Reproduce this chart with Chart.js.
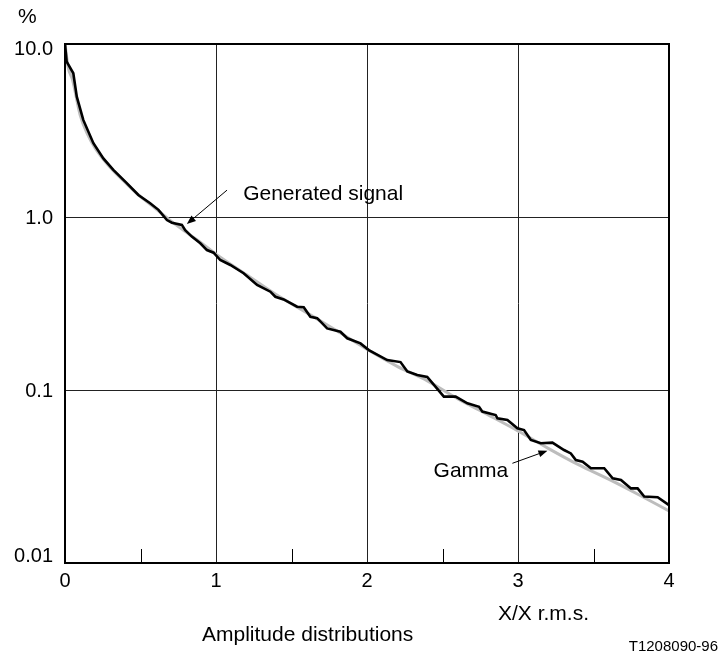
<!DOCTYPE html>
<html>
<head>
<meta charset="utf-8">
<script src="https://cdn.jsdelivr.net/npm/chart.js@4/dist/chart.umd.min.js"></script>
<style>
    html, body { margin: 0; padding: 0; background: #fff; }
    #wrap { width: 720px; height: 652px; position: relative; }
</style>
</head>
<body>
<div id="wrap"><canvas id="chart"></canvas></div>
<script>
// data
const genX = [0, 0.011, 0.055, 0.078, 0.121, 0.188, 0.254, 0.320, 0.409, 0.486, 0.564, 0.619, 0.675, 0.708, 0.774, 0.796, 0.840, 0.896, 0.940, 0.984, 1.028, 1.095, 1.183, 1.272, 1.360, 1.393, 1.448, 1.537, 1.581, 1.625, 1.670, 1.736, 1.824, 1.869, 1.957, 2.012, 2.134, 2.222, 2.267, 2.333, 2.399, 2.509, 2.587, 2.665, 2.742, 2.764, 2.852, 2.864, 2.930, 2.996, 3.040, 3.085, 3.151, 3.228, 3.305, 3.350, 3.383, 3.428, 3.483, 3.571, 3.627, 3.682, 3.748, 3.792, 3.836, 3.925, 4.0];
const genY = [10, 7.9, 6.77, 4.96, 3.64, 2.67, 2.18, 1.87, 1.57, 1.34, 1.20, 1.10, 0.96, 0.927, 0.90, 0.84, 0.77, 0.705, 0.644, 0.622, 0.564, 0.528, 0.473, 0.405, 0.370, 0.346, 0.334, 0.303, 0.301, 0.265, 0.260, 0.227, 0.217, 0.199, 0.186, 0.170, 0.149, 0.145, 0.128, 0.122, 0.119, 0.0915, 0.0915, 0.0838, 0.080, 0.075, 0.0717, 0.0686, 0.0671, 0.0601, 0.0587, 0.0514, 0.0492, 0.0496, 0.045, 0.043, 0.0394, 0.0385, 0.0353, 0.0353, 0.0309, 0.0302, 0.027, 0.027, 0.0242, 0.024, 0.0216];

const gammaX = [0, 0.02, 0.05, 0.1, 0.15, 0.2, 0.3, 0.4, 0.5, 0.6, 0.7, 0.8, 0.9, 1.0, 1.2, 1.4, 1.6, 1.8, 2.0, 2.2, 2.4, 2.6, 2.8, 3.0, 3.2, 3.4, 3.6, 3.8, 4.0];
const gammaY = [10, 7.4, 6.2, 3.9, 3.0, 2.5, 1.93, 1.58, 1.31, 1.12, 0.95, 0.82, 0.71, 0.61, 0.465, 0.355, 0.28, 0.22, 0.172, 0.137, 0.113, 0.089, 0.072, 0.058, 0.046, 0.037, 0.0305, 0.0248, 0.0200];

const xTicks = [0, 0.5, 1, 1.5, 2, 2.5, 3, 3.5, 4];
const xLabels = ['0', '', '1', '', '2', '', '3', '', '4'];
const yTicks = [0.01, 0.1, 1, 10];
const yLabels = ['0.01', '0.1', '1.0', '10.0'];

const FONT = '"Liberation Sans", Arial, Helvetica, sans-serif';

const toPoints = (xs, ys) => xs.map((x, i) => ({ x: x, y: ys[i] }));

const drawArrow = (ctx, x1, y1, x2, y2) => {
    const ang = Math.atan2(y2 - y1, x2 - x1);
    const len = 9, half = 3.5;
    ctx.beginPath();
    ctx.moveTo(x1, y1);
    ctx.lineTo(x2 - Math.cos(ang) * len * 0.8, y2 - Math.sin(ang) * len * 0.8);
    ctx.stroke();
    ctx.beginPath();
    ctx.moveTo(x2, y2);
    ctx.lineTo(x2 - Math.cos(ang) * len - Math.sin(ang) * half, y2 - Math.sin(ang) * len + Math.cos(ang) * half);
    ctx.lineTo(x2 - Math.cos(ang) * len + Math.sin(ang) * half, y2 - Math.sin(ang) * len - Math.cos(ang) * half);
    ctx.closePath();
    ctx.fill();
};

const decorPlugin = {
    id: 'decor',
    afterDraw(chart) {
        const ctx = chart.ctx;
        const area = chart.chartArea;
        const xs = chart.scales.x;
        const ys = chart.scales.y;
        ctx.save();

        // frame
        ctx.strokeStyle = '#000';
        ctx.lineWidth = 2;
        ctx.strokeRect(area.left, area.top, area.right - area.left, area.bottom - area.top);

        // small ticks at the half units
        ctx.lineWidth = 1;
        xTicks.forEach((v, i) => {
            if (xLabels[i] !== '') return;
            const px = Math.round(xs.getPixelForValue(v)) + 0.5;
            ctx.beginPath();
            ctx.moveTo(px, area.bottom);
            ctx.lineTo(px, area.bottom - 14);
            ctx.stroke();
        });

        // y labels, the end ones pulled inside
        ctx.fillStyle = '#000';
        ctx.font = '20px ' + FONT;
        ctx.textAlign = 'right';
        ctx.textBaseline = 'alphabetic';
        yTicks.forEach((v, i) => {
            let py = ys.getPixelForValue(v) + 7;
            if (i === 0) py -= 8;
            if (i === yTicks.length - 1) py += 4;
            ctx.fillText(yLabels[i], area.left - 12, py);
        });

        ctx.font = '21px ' + FONT;
        ctx.textAlign = 'left';
        ctx.fillText('%', 18, 23);
        ctx.fillText('X/X r.m.s.', 498, 620);
        ctx.fillText('Amplitude distributions', 202, 641);
        ctx.font = '15px ' + FONT;
        ctx.textAlign = 'right';
        ctx.fillText('T1208090-96', 718, 651);

        // annotations
        ctx.font = '21px ' + FONT;
        ctx.textAlign = 'left';
        ctx.fillText('Generated signal', xs.getPixelForValue(1.18), ys.getPixelForValue(1.25));
        ctx.fillText('Gamma', xs.getPixelForValue(2.441), ys.getPixelForValue(0.0314));
        ctx.lineWidth = 1;
        drawArrow(ctx, xs.getPixelForValue(1.073), ys.getPixelForValue(1.43),
            xs.getPixelForValue(0.807), ys.getPixelForValue(0.911));
        drawArrow(ctx, xs.getPixelForValue(2.963), ys.getPixelForValue(0.0377),
            xs.getPixelForValue(3.195), ys.getPixelForValue(0.0446));

        ctx.restore();
    }
};

const gridColor = (v, ok) => ok(v) ? '#222' : 'rgba(0,0,0,0)';

new Chart(document.getElementById('chart'), {
    type: 'line',
    data: {
        datasets: [{
            label: 'Generated signal',
            data: toPoints(genX, genY),
            borderColor: '#000',
            borderWidth: 2.6,
            pointRadius: 0,
            tension: 0
        }, {
            label: 'Gamma',
            data: toPoints(gammaX, gammaY),
            borderColor: '#bdbdbd',
            borderWidth: 3,
            pointRadius: 0,
            cubicInterpolationMode: 'monotone'
        }]
    },
    options: {
        responsive: true,
        maintainAspectRatio: false,
        animation: false,
        events: [],
        layout: { padding: { top: 44, right: 51, left: 0, bottom: 0 } },
        plugins: {
            legend: { display: false },
            tooltip: { enabled: false }
        },
        scales: {
            x: {
                type: 'linear',
                min: 0,
                max: 4,
                afterBuildTicks: (scale) => { scale.ticks = xTicks.map(v => ({ value: v })); },
                afterFit: (scale) => { scale.height = 89; },
                border: { display: false },
                grid: {
                    drawTicks: false,
                    lineWidth: 1,
                    color: (c) => gridColor(c.tick && c.tick.value, v => v > 0 && v < 4 && v % 1 === 0)
                },
                ticks: {
                    padding: 6,
                    color: '#000',
                    font: { family: FONT, size: 20 },
                    callback: (v, i) => xLabels[i]
                }
            },
            y: {
                type: 'logarithmic',
                min: 0.01,
                max: 10,
                afterBuildTicks: (scale) => { scale.ticks = yTicks.map(v => ({ value: v })); },
                afterFit: (scale) => { scale.width = 65; },
                border: { display: false },
                grid: {
                    drawTicks: false,
                    lineWidth: 1,
                    color: (c) => gridColor(c.tick && c.tick.value, v => v > 0.01 && v < 10)
                },
                ticks: { display: false }
            }
        }
    },
    plugins: [decorPlugin]
});
</script>
</body>
</html>
